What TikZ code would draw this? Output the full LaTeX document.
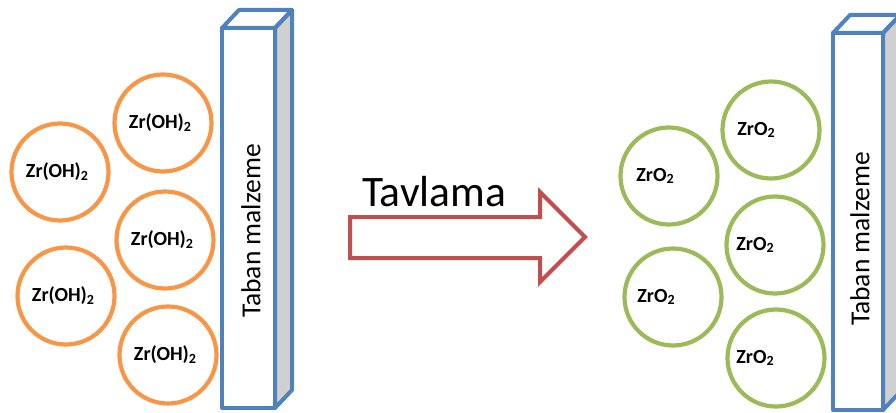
\documentclass[tikz,border=0pt]{standalone}
\usepackage{fontspec}
\setmainfont{Carlito}
\definecolor{cOrange}{HTML}{F79646}
\definecolor{cGreen}{HTML}{9BBB59}
\definecolor{cBlue}{HTML}{4F81BD}
\definecolor{cRed}{HTML}{C0504D}
\definecolor{cGray}{HTML}{D0D0D0}
\newcommand\mysub[1]{\raisebox{-0.25ex}{\fontsize{14}{14}\selectfont\bfseries #1}}
\begin{document}
\begin{tikzpicture}[x=1pt,y=-1pt,
  grain/.style={circle,draw,line width=4.2pt,minimum size=97pt,inner sep=0pt},
  oh/.style={grain,draw=cOrange},
  ox/.style={grain,draw=cGreen},
  lbl/.style={font=\fontsize{20}{20}\selectfont\bfseries,inner sep=0pt},
  boxline/.style={draw=cBlue,line width=4pt,line join=round},
  boxtxt/.style={font=\fontsize{27.5}{27.5}\selectfont,rotate=90,inner sep=0pt}]
\useasboundingbox (0,0) rectangle (896,412);
% left substrate
\coordinate (la) at (222,28);
\coordinate (lb) at (275,408);
\filldraw[boxline,fill=cGray] (275,28) -- ++(17,-18) -- (292,390) -- (275,408) -- cycle;
\draw[boxline] (222,28) -- ++(17,-18) -- (292,10) -- (275,28) -- cycle;
\draw[boxline,fill=white] (la) rectangle (lb);
\node[boxtxt] (lt) at (251,231) {Taban malzeme};
% right substrate
\coordinate (ra) at (833,33);
\coordinate (rb) at (883,410);
\filldraw[boxline,fill=cGray] (883,33) -- ++(17,-18) -- (900,392) -- (883,410) -- cycle;
\draw[boxline] (833,33) -- ++(17,-18) -- (900,15) -- (883,33) -- cycle;
\draw[boxline,fill=white] (ra) rectangle (rb);
\node[boxtxt] (rt) at (860,239) {Taban malzeme};
% orange grains
\node[oh] (c1) at (163,123) {};
\node[oh] (c2) at (60,172) {};
\node[oh] (c3) at (165,240) {};
\node[oh] (c4) at (66,296) {};
\node[oh] (c5) at (168,355) {};
\foreach \n/\dx in {c1/-3,c2/-3,c3/-3,c4/-3,c5/-3}
  \node[lbl] (t\n) at ([xshift=\dx pt]\n.center) {Zr(OH)\mysub{2}};
% green grains
\node[ox] (g1) at (771,130) {};
\node[ox] (g2) at (669,176) {};
\node[ox] (g3) at (775,245) {};
\node[ox] (g4) at (673,297) {};
\node[ox] (g5) at (776,358) {};
\foreach \n/\dx in {g1/-15,g2/-14,g3/-20,g4/-17,g5/-21}
  \node[lbl] (t\n) at ([xshift=\dx pt]\n.center) {ZrO\mysub{2}};
% arrow
\coordinate (as) at (350,237);
\coordinate (at) at (585,237);
\draw[draw=cRed,line width=4pt,line join=miter,fill=white]
  (350,217) -- (540,217) -- (540,192) -- (at) -- (540,282) -- (540,258) -- (350,258) -- cycle;
\node[font=\fontsize{43.5}{43.5}\selectfont,inner sep=0pt,anchor=base west] (tav) at (362,206) {Tavlama};
\end{tikzpicture}
\end{document}
